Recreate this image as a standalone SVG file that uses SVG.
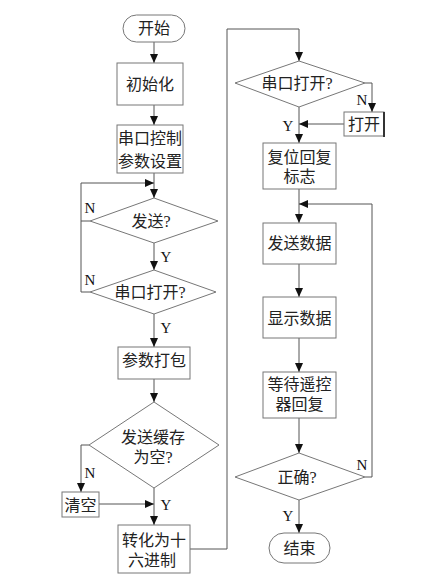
<svg xmlns="http://www.w3.org/2000/svg" width="427" height="585" viewBox="0 0 427 585">
<defs>
<marker id="ah" markerUnits="userSpaceOnUse" markerWidth="10" markerHeight="8" refX="9" refY="4" orient="auto">
<path d="M0,0 L9,4 L0,8 Z" fill="#111"/>
</marker>
</defs>
<style>
.box{fill:#fff;stroke:#777;stroke-width:1}
.t{font-family:"Liberation Serif","Noto Sans CJK SC",serif;font-size:16px;fill:#222;text-anchor:middle;dominant-baseline:central}
.l{font-family:"Liberation Serif",serif;font-size:15px;fill:#111;text-anchor:middle;dominant-baseline:central}
.c{fill:none;stroke:#555;stroke-width:1}
</style>
<rect width="427" height="585" fill="#fff"/>
<g id="connectors">
<path class="c" d="M154,42 V63" marker-end="url(#ah)"/>
<path class="c" d="M154,105 V125" marker-end="url(#ah)"/>
<path class="c" d="M154,173 V198" marker-end="url(#ah)"/>
<path class="c" d="M90,221 H81 V183 H154" marker-end="url(#ah)"/>
<path class="c" d="M90,292 H81 V221"/>
<path class="c" d="M154,243 V270" marker-end="url(#ah)"/>
<path class="c" d="M154,314 V347" marker-end="url(#ah)"/>
<path class="c" d="M154,379 V402" marker-end="url(#ah)"/>
<path class="c" d="M89,445 H81 V492" marker-end="url(#ah)"/>
<path class="c" d="M99,504 H154" marker-end="url(#ah)"/>
<path class="c" d="M154,488 V525" marker-end="url(#ah)"/>
<path class="c" d="M190,549 H227 V29 H299 V61" marker-end="url(#ah)"/>
<path class="c" d="M365,83 H372 V112" marker-end="url(#ah)"/>
<path class="c" d="M344,124 H299" marker-end="url(#ah)"/>
<path class="c" d="M299,107 V143" marker-end="url(#ah)"/>
<path class="c" d="M299,189 V223" marker-end="url(#ah)"/>
<path class="c" d="M299,264 V297" marker-end="url(#ah)"/>
<path class="c" d="M299,338 V372" marker-end="url(#ah)"/>
<path class="c" d="M299,418 V453" marker-end="url(#ah)"/>
<path class="c" d="M365,477 H372 V204 H299" marker-end="url(#ah)"/>
<path class="c" d="M299,500 V533" marker-end="url(#ah)"/>
<text class="l" x="90" y="208">N</text>
<text class="l" x="166" y="257">Y</text>
<text class="l" x="90" y="280">N</text>
<text class="l" x="166" y="328">Y</text>
<text class="l" x="90" y="473">N</text>
<text class="l" x="166" y="505">Y</text>
<text class="l" x="362" y="100">N</text>
<text class="l" x="288" y="126">Y</text>
<text class="l" x="362" y="465">N</text>
<text class="l" x="288" y="516">Y</text>
</g>
<g id="start"><rect class="box" x="123" y="15" width="62" height="27" rx="13.5"/><text class="t" x="154" y="28.5">开始</text></g>
<g id="init"><rect class="box" x="117" y="63" width="66" height="42"/><text class="t" x="150" y="84">初始化</text></g>
<g id="param"><rect class="box" x="117" y="125" width="66" height="48"/><text class="t" x="150" y="138">串口控制</text><text class="t" x="150" y="161">参数设置</text></g>
<g id="send-q"><polygon class="box" points="154,198 218,221 154,243 90,221"/><text class="t" x="151" y="221">发送?</text></g>
<g id="open-q1"><polygon class="box" points="154,270 216,292 154,314 90,292"/><text class="t" x="150" y="292">串口打开?</text></g>
<g id="pack"><rect class="box" x="118" y="347" width="72" height="32"/><text class="t" x="154" y="360">参数打包</text></g>
<g id="buf-q"><polygon class="box" points="154,402 219,445 154,488 89,445"/><text class="t" x="153" y="437">发送缓存</text><text class="t" x="153" y="457">为空?</text></g>
<g id="clear"><rect class="box" x="62" y="492" width="37" height="25"/><text class="t" x="80.5" y="505">清空</text></g>
<g id="hex"><rect class="box" x="118" y="525" width="72" height="48"/><text class="t" x="154" y="540">转化为十</text><text class="t" x="152" y="560">六进制</text></g>
<g id="open-q2"><polygon class="box" points="299,61 365,83 299,107 235,83"/><text class="t" x="297" y="83">串口打开?</text></g>
<g id="open"><rect class="box" x="344" y="112" width="40" height="24"/><line x1="384" y1="112" x2="384" y2="137" stroke="#333" stroke-width="2"/><text class="t" x="364" y="124">打开</text></g>
<g id="reset"><rect class="box" x="263" y="143" width="73" height="46"/><text class="t" x="299.5" y="157">复位回复</text><text class="t" x="299.5" y="176">标志</text></g>
<g id="senddata"><rect class="box" x="263" y="223" width="73" height="41"/><text class="t" x="299.5" y="243">发送数据</text></g>
<g id="show"><rect class="box" x="263" y="297" width="73" height="41"/><text class="t" x="299.5" y="318">显示数据</text></g>
<g id="wait"><rect class="box" x="263" y="372" width="73" height="46"/><text class="t" x="299.5" y="384">等待遥控</text><text class="t" x="299.5" y="404">器回复</text></g>
<g id="ok-q"><polygon class="box" points="299,453 365,477 299,500 235,477"/><text class="t" x="297" y="477">正确?</text></g>
<g id="end"><rect class="box" x="269" y="533" width="61" height="30" rx="15"/><text class="t" x="299.5" y="548">结束</text></g>
</svg>
